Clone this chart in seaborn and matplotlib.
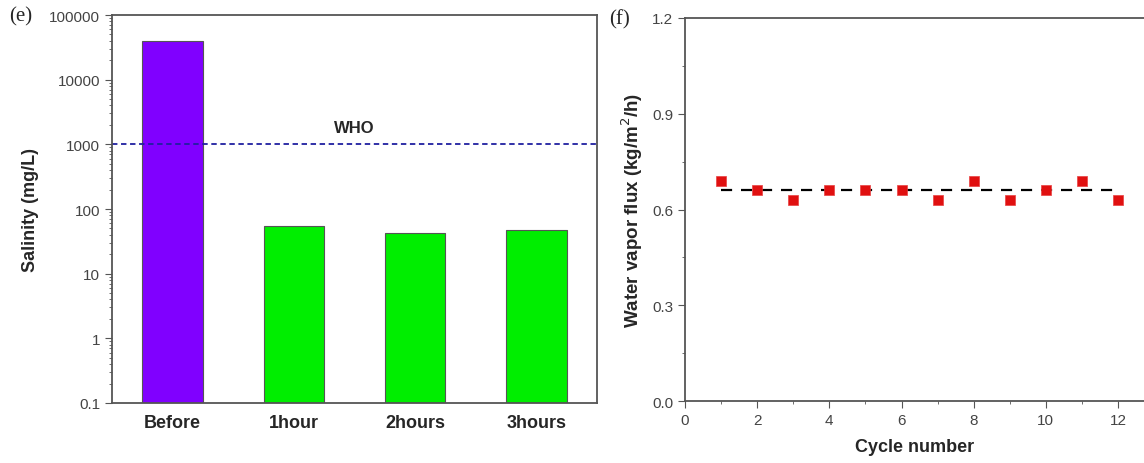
import numpy as np
import pandas as pd
import seaborn as sns
import matplotlib.pyplot as plt
from matplotlib.ticker import FixedLocator, LogLocator, MultipleLocator, FuncFormatter

sns.set_style("ticks")
plt.rcParams['font.family'] = ['Liberation Sans', 'DejaVu Sans']

# panel (e) data
stages = ['Before', '1hour', '2hours', '3hours']
salinity = [40000, 55, 42, 48]
bar_colors = ['#8000ff', '#00ee00', '#00ee00', '#00ee00']
who_limit = 1000

# panel (f) data
cycles = [1, 2, 3, 4, 5, 6, 7, 8, 9, 10, 11, 12]
flux = [0.69, 0.66, 0.63, 0.66, 0.66, 0.66, 0.63, 0.69, 0.63, 0.66, 0.69, 0.63]
flux_mean = 0.66

fig = plt.figure(figsize=(11.44, 4.64), dpi=100)
ax1 = fig.add_axes([112/1144, 1-404/464, (597-112)/1144, (404-16)/464])
ax2 = fig.add_axes([685/1144, 1-402/464, (1144-685)/1144, (402-19)/464])

tick_col = '#444444'
spine_col = '#555555'

# ---- (e) salinity bars ----
df_e = pd.DataFrame({'stage': stages, 'salinity': salinity})
sns.barplot(data=df_e, x='stage', y='salinity', hue='stage', palette=bar_colors,
            saturation=1, legend=False, width=0.5, edgecolor='#555555',
            linewidth=0.8, ax=ax1)
ax1.set_yscale('log')
ax1.set_ylim(0.1, 100000)
ax1.set_xlim(-0.5, 3.5)
ax1.yaxis.set_major_locator(FixedLocator([0.1, 1, 10, 100, 1000, 10000, 100000]))
ax1.yaxis.set_minor_locator(LogLocator(base=10, subs=np.arange(2, 10)))
ax1.yaxis.set_major_formatter(FuncFormatter(lambda v, p: '%g' % v))
ax1.axhline(who_limit, color='#2020a0', linestyle=(0, (3, 2)), linewidth=1.3)
ax1.text(1.5, who_limit * 1.85, 'WHO', ha='center', va='center', fontsize=12, fontweight='bold')
ax1.set_xlabel('')
ax1.set_ylabel('Salinity (mg/L)', fontsize=13, fontweight='bold')
ax1.yaxis.set_label_coords(-(112 - 39) / 485, 0.5)
ax1.tick_params(axis='x', length=0, labelsize=13, pad=8)
for lbl in ax1.get_xticklabels():
    lbl.set_fontweight('bold')
ax1.tick_params(axis='y', which='major', length=5, labelsize=11, labelcolor=tick_col, color=spine_col)
ax1.tick_params(axis='y', which='minor', length=2.5, color=spine_col)
for s in ax1.spines.values():
    s.set_color(spine_col)
    s.set_linewidth(1.3)
fig.text(9/1144, 1-17/464, '(e)', family='Liberation Serif', fontsize=15, va='center')

# ---- (f) water vapor flux ----
df_f = pd.DataFrame({'cycle': cycles, 'flux': flux})
ax2.plot([cycles[0], cycles[-1]], [flux_mean, flux_mean], color='black',
         linestyle=(0, (5, 4)), linewidth=1.6, zorder=1)
sns.scatterplot(data=df_f, x='cycle', y='flux', marker='s', s=55, color='#e01010',
                edgecolor='#e84040', linewidth=0.5, ax=ax2, zorder=2)
ax2.set_xlim(0, 12.72)
ax2.set_ylim(0, 1.2)
ax2.xaxis.set_major_locator(MultipleLocator(2))
ax2.xaxis.set_minor_locator(MultipleLocator(1))
ax2.yaxis.set_major_locator(MultipleLocator(0.3))
ax2.yaxis.set_minor_locator(MultipleLocator(0.15))
ax2.yaxis.set_major_formatter(FuncFormatter(lambda v, p: '%.1f' % v))
ax2.set_xlabel('Cycle number', fontsize=13, fontweight='bold', labelpad=8)
ax2.set_ylabel('Water vapor flux (kg/m$^2$/h)', fontsize=13.5, fontweight='bold')
ax2.yaxis.set_label_coords(-(685 - 645) / 459, 0.5)
ax2.tick_params(which='major', length=5, labelsize=11, labelcolor=tick_col, color=spine_col)
ax2.tick_params(which='minor', length=2.5, color=spine_col)
ax2.spines['right'].set_visible(False)
for s in ['left', 'top', 'bottom']:
    ax2.spines[s].set_color(spine_col)
    ax2.spines[s].set_linewidth(1.3)
fig.text(609/1144, 1-20/464, '(f)', family='Liberation Serif', fontsize=15, va='center')

fig.savefig('out.png', dpi=100)
